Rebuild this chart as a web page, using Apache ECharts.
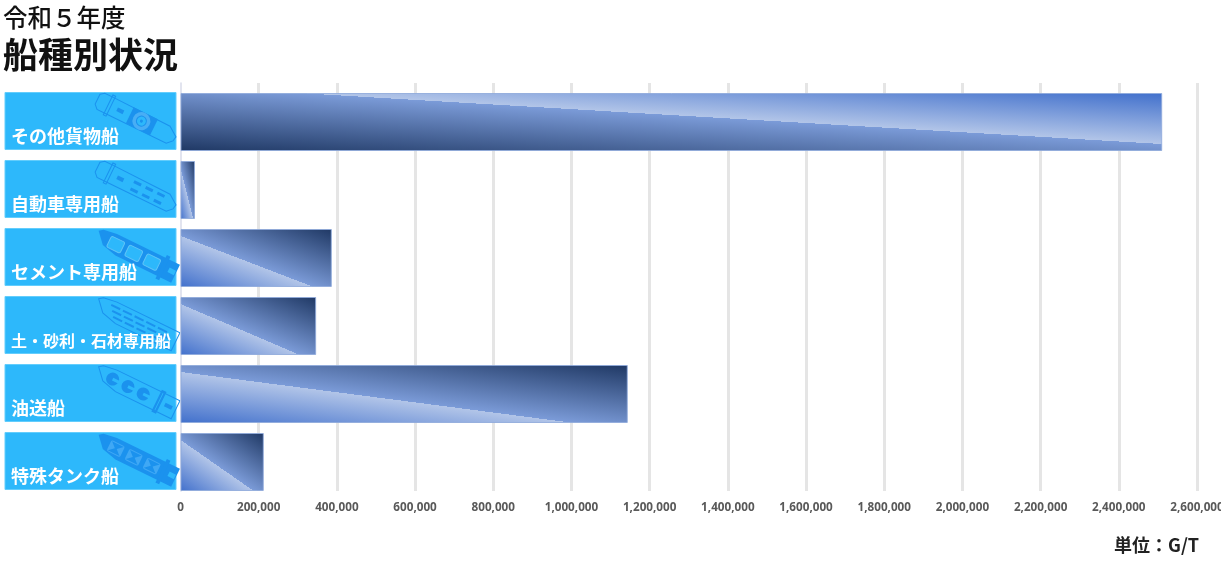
<!DOCTYPE html>
<html><head><meta charset="utf-8">
<style>html,body{margin:0;padding:0;background:#fff;overflow:hidden}#c{width:1221px;height:561px}</style>
<script src="https://cdn.jsdelivr.net/npm/echarts@6/dist/echarts.min.js"></script>
</head><body><div id="c"></div>
<script>
const categories = ['その他貨物船','自動車専用船','セメント専用船','土・砂利・石材専用船','油送船','特殊タンク船'];
const tonnage = [2511000, 37000, 387000, 347000, 1144000, 213000];
const axisMax = 2600000;
const axisStep = 200000;
const shipKinds = ['cargo','car','cement','gravel','tanker','special'];

const JP = '"Noto Sans CJK JP","Noto Sans",sans-serif';
const BOX = '#2db8fb', INK = '#1b92ee';
const chart = echarts.init(document.getElementById('c'), null, {renderer:'canvas', width:1221, height:561});

const plotLeft = 180.5, plotWidth = 1016.5, barH = 58;

function gradientFor(v, i) {
  const w = v / axisMax * plotWidth, h = barH, L2 = w*w + h*h;
  const x2 = 2*h*h/L2, y2 = 1 - 2*w*w/L2;
  const stops = i === 0
    ? [[0,'#1f3864'],[0.56,'#7b9bd8'],[0.56,'#b2c5e8'],[1,'#4170cc']]
    : [[0,'#4170cc'],[0.44,'#b2c5e8'],[0.44,'#7b9bd8'],[1,'#1f3864']];
  return {type:'linear', x:0, y:1, x2, y2, colorStops: stops.map(s => ({offset:s[0], color:s[1]}))};
}

const Z = -5;
function poly(points, style){ return {type:'polygon', z:Z, shape:{points}, style}; }
function rect(x,y,width,height,style,r){ return {type:'rect', z:Z, shape:{x,y,width,height,r:r||0}, style}; }
function circ(cx,cy,r,style){ return {type:'circle', z:Z, shape:{cx,cy,r}, style}; }
const OUT = {fill:'rgba(0,0,0,0)', stroke:INK, lineWidth:1};
const OUTS = {fill:'rgba(0,0,0,0)', stroke:INK, lineWidth:2.2};
const FILL = {fill:INK};
const HOLE = {fill:BOX};

function shipParts(kind){
  const p = [];
  if (kind === 'cargo' || kind === 'car') {
    p.push(poly([[-43,-6],[-39,-9],[-28,-9],[34,-8],[44,-1],[43,4],[38,9],[-28,9],[-39,9],[-43,5]], OUT));
    p.push(rect(-31,-11,3,22,OUT));
    p.push(rect(-21,-2,7,4,FILL));
    if (kind === 'cargo') {
      p.push(rect(-7,-9,27,18,FILL));
      p.push(circ(6,0,9,{fill:'#48aef5'}));
      p.push(circ(6,0,5,{fill:BOX,stroke:INK,lineWidth:1}));
      p.push(circ(6,0,1.5,FILL));
    } else {
      [-4,9,22].forEach(x => { [-5,3].forEach(y => {
        p.push(rect(x,y,8,3,FILL));
      });});
    }
  } else {
    const bow = [[-44,-5],[-40,-8],[-26,-10],[44,-10],[44,10],[-18,10],[-34,6]];
    if (kind === 'cement' || kind === 'special') {
      p.push(poly(bow, FILL));
      [-30,-10,10].forEach(x => {
        p.push(rect(x, -6, 15, 12, kind==='cement' ? {fill:BOX,stroke:'#5fc4f7',lineWidth:1} : {fill:'#3fa8f5'}, 2));
        if (kind === 'special') {
          p.push(poly([[x+1,-5],[x+14,-5],[x+8.5,0],[x+14,5],[x+1,5],[x+6.5,0]], FILL));
        }
      });
      p.push(rect(28,-13,4,26,FILL));
      p.push(rect(36,-3,7,5,HOLE));
    } else if (kind === 'gravel') {
      p.push(poly(bow, OUT));
      [-6,-1,4].forEach(y => {
        [-30,-17,-4,9,22].forEach((x,j) => p.push(rect(x + (y+6)*0.7, y, 10, 2, FILL)));
      });
    } else {
      p.push(poly(bow, OUT));
      [-26,-9,8].forEach(x => {
        p.push(circ(x,0,6.5,FILL));
        p.push(rect(x,-1.5,9,3,HOLE));
      });
      p.push(rect(24,-11,3,22,OUTS));
      p.push(rect(32,-2,8,4,FILL));
    }
  }
  return p;
}

const boxes = categories.map((c,i) => ({
  type:'group', z:Z, x:5, y:92.5 + 68*i,
  children:[
    {type:'rect', z:Z-1, shape:{x:0,y:0,width:171,height:57}, style:{fill:BOX,stroke:'#63cdfc',lineWidth:1}},
    {type:'group', x:131, y:26, rotation:-26*Math.PI/180, children:shipParts(shipKinds[i])}
  ]
}));

chart.setOption({
  animation:false,
  backgroundColor:'#fff',
  title:[
    {text:'令和５年度', left:3, top:5, padding:0, textStyle:{fontFamily:JP,fontSize:24.5,fontWeight:500,color:'#111'}},
    {text:'船種別状況', left:3, top:37, padding:0, textStyle:{fontFamily:JP,fontSize:35,fontWeight:700,color:'#111'}},
    {text:'単位：G/T', left:1114, top:536, padding:0, textStyle:{fontFamily:JP,fontSize:18,fontWeight:700,color:'#222'}}
  ],
  graphic:boxes,
  grid:[
    {left:plotLeft, top:83, width:plotWidth, height:408, outerBoundsMode:'none', containLabel:false},
    {left:plotLeft, top:88, width:plotWidth, height:408, outerBoundsMode:'none', containLabel:false}
  ],
  xAxis:[
    {gridIndex:0, type:'value', min:0, max:axisMax, interval:axisStep,
     axisLine:{show:false}, axisTick:{show:false},
     splitLine:{show:true, showMinLine:false, lineStyle:{color:'#e5e5e5',width:3}},
     axisLabel:{show:true, margin:11, hideOverlap:false, showMaxLabel:true, color:'#595959', fontFamily:'"Open Sans",sans-serif', fontSize:11.7, fontWeight:700,
       formatter:v => v.toLocaleString('en-US')}},
    {gridIndex:1, type:'value', min:0, max:axisMax, interval:axisStep, show:false}
  ],
  yAxis:[
    {gridIndex:0, type:'category', data:categories, inverse:true,
     axisLine:{show:true, lineStyle:{color:'#d8dbea',width:1.5}}, axisTick:{show:false}, axisLabel:{show:false}, splitLine:{show:false}},
    {gridIndex:1, type:'category', data:categories, inverse:true,
     axisLine:{show:false}, axisTick:{show:false}, splitLine:{show:false},
     axisLabel:{show:true, interval:0, align:'left', margin:plotLeft-11, padding:[29,0,0,0],
       formatter:v => (v.length > 8 ? '{s|' : '{l|') + v + '}',
       rich:{
         l:{fontFamily:JP,fontSize:18,fontWeight:700,color:'#fff'},
         s:{fontFamily:JP,fontSize:16,fontWeight:700,color:'#fff'}
       }}}
  ],
  series:[{
    type:'bar', xAxisIndex:1, yAxisIndex:1, barWidth:barH,
    data:tonnage.map((v,i) => ({value:v, itemStyle:{color:gradientFor(v,i), borderColor:'rgba(142,169,219,0.85)', borderWidth:1}}))
  }]
});
</script></body></html>
